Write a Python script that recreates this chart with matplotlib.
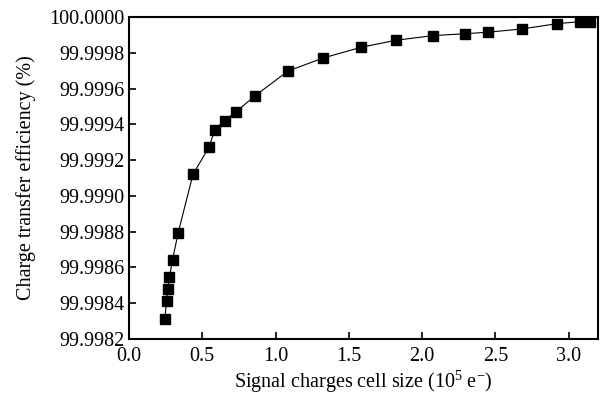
import numpy as np
import matplotlib
matplotlib.use("Agg")
import matplotlib.pyplot as plt
from matplotlib.ticker import FormatStrFormatter, MultipleLocator

plt.rcParams['font.family'] = ['Liberation Serif', 'DejaVu Serif']
plt.rcParams['mathtext.fontset'] = 'custom'
plt.rcParams['mathtext.rm'] = 'Liberation Serif'
plt.rcParams['mathtext.it'] = 'Liberation Serif:italic'

# signal charges cell size (10^5 e-)
cell_size = [0.245, 0.256, 0.263, 0.276, 0.297, 0.335, 0.437, 0.548, 0.584,
             0.652, 0.727, 0.861, 1.085, 1.325, 1.585, 1.821, 2.074, 2.296,
             2.448, 2.679, 2.923, 3.077, 3.145]
# charge transfer efficiency (%)
cte = [99.998311, 99.998410, 99.998479, 99.998544, 99.998642, 99.998792,
       99.999121, 99.999275, 99.999369, 99.999421, 99.999468, 99.999560,
       99.999698, 99.999771, 99.999831, 99.999870, 99.999896, 99.999907,
       99.999915, 99.999933, 99.999963, 99.999974, 99.999974]

fig = plt.figure(figsize=(6.07, 3.96), dpi=100)
ax = fig.add_axes([0.2125, 0.144, 0.7725, 0.813])

ax.plot(cell_size, cte, color='black', lw=0.8, marker='s', ms=7.5,
        markerfacecolor='black', markeredgecolor='black')

ax.set_xlim(0, 3.2)
ax.set_ylim(99.9982, 100.0)
ax.xaxis.set_major_locator(MultipleLocator(0.5))
ax.yaxis.set_major_locator(MultipleLocator(0.0002))
ax.xaxis.set_major_formatter(FormatStrFormatter('%.1f'))
ax.yaxis.set_major_formatter(FormatStrFormatter('%.4f'))

ax.tick_params(direction='in', length=5, width=1.2, labelsize=14.5,
               top=False, right=False)
ax.tick_params(axis='x', pad=6)
ax.tick_params(axis='y', pad=3)
for s in ax.spines.values():
    s.set_linewidth(1.5)

ax.set_xlabel('Signal charges cell size (10$^5$ e$^{-}$)', fontsize=14.5, labelpad=2)
ax.set_ylabel('Charge transfer efficiency (%)', fontsize=14.5, labelpad=10)

fig.savefig('out.png', dpi=100)
